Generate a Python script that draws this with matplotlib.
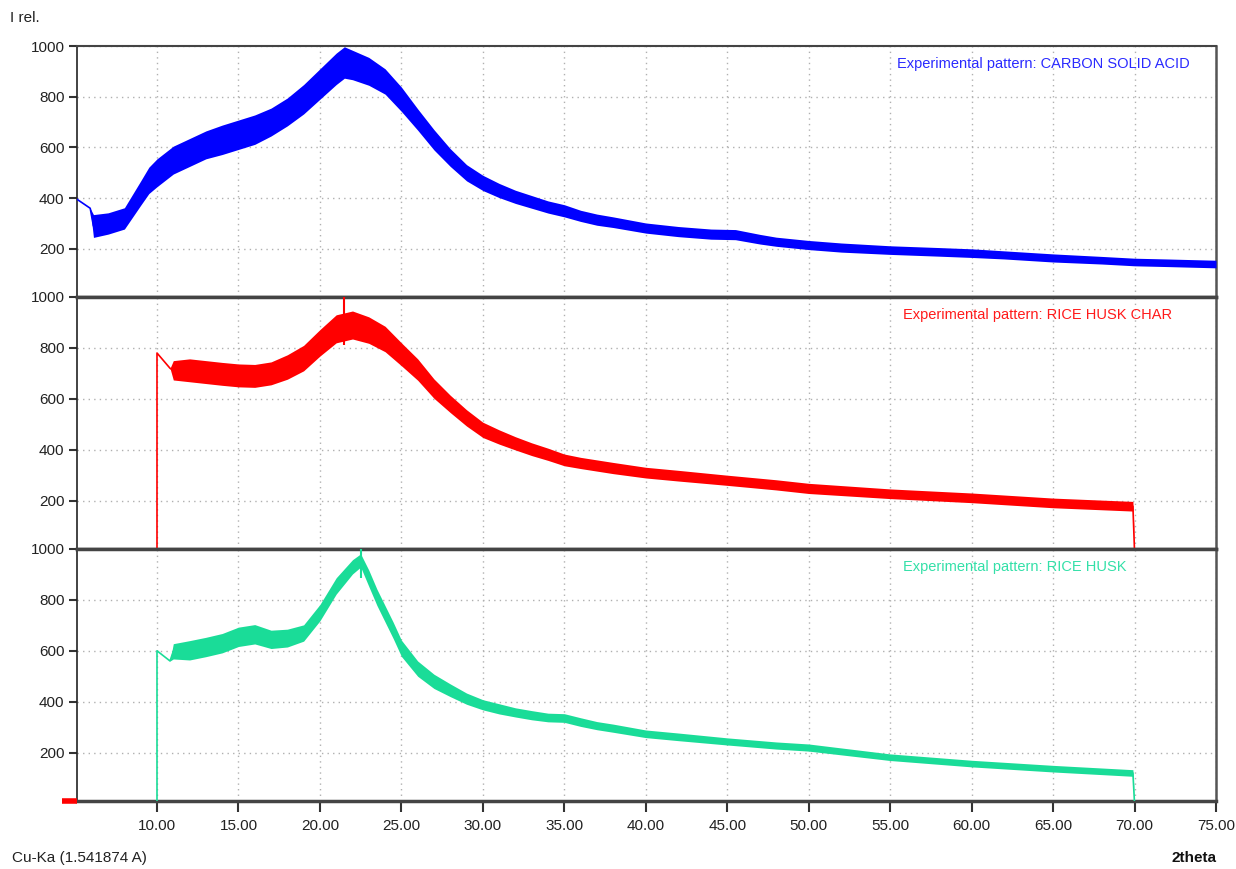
import matplotlib
matplotlib.use("Agg")
import matplotlib.pyplot as plt
import numpy as np

plt.rcParams['font.family'] = ['Liberation Sans', 'DejaVu Sans']

# --- pattern data (2theta, intensity, noise half-width) ---
csa_x = [5.1, 5.9, 6.1, 7, 8, 9, 9.5, 10, 11, 12, 13, 14, 15, 16, 17, 18, 19, 20, 21, 21.5, 22, 23,
         24, 25, 26, 27, 28, 29, 30, 31, 32, 33, 34, 35, 36, 37, 38, 40, 42, 44, 45.5, 47, 48, 50,
         52, 55, 58, 60, 62, 65, 68, 70, 72, 75]
csa_y = [395, 360, 290, 300, 320, 420, 470, 500, 550, 580, 610, 630, 650, 670, 700, 740, 790, 850,
         910, 935, 925, 900, 860, 790, 710, 630, 560, 500, 460, 430, 405, 385, 365, 350, 330, 315,
         305, 282, 268, 258, 256, 238, 228, 215, 205, 195, 188, 183, 176, 164, 155, 148, 145, 140]
csa_w = [0, 0, 45, 42, 42, 48, 52, 55, 55, 55, 55, 58, 58, 58, 55, 55, 58, 60, 62, 62, 58, 55,
         50, 48, 42, 40, 35, 32, 30, 28, 26, 25, 24, 24, 22, 22, 21, 20, 20, 20, 20, 19, 18, 18,
         18, 17, 17, 17, 16, 16, 15, 15, 15, 15]

rhc_x = [10, 10, 10.8, 11, 12, 13, 14, 15, 16, 17, 18, 19, 20, 21, 22, 23, 24, 25, 26, 27, 28, 29,
         30, 31, 32, 33, 34, 35, 36, 38, 40, 42, 45, 48, 50, 55, 60, 65, 69.9, 70]
rhc_y = [0, 780, 720, 712, 712, 705, 698, 692, 690, 700, 725, 760, 820, 875, 890, 870, 835, 775,
         715, 640, 580, 525, 478, 450, 425, 402, 382, 360, 348, 328, 310, 298, 280, 262, 248, 227,
         211, 191, 178, 0]
rhc_w = [0, 0, 0, 38, 45, 45, 45, 45, 45, 45, 48, 50, 52, 55, 55, 52, 50, 45, 42, 38, 34, 32,
         30, 28, 26, 25, 24, 23, 22, 22, 21, 21, 20, 20, 20, 19, 19, 19, 19, 0]

rh_x = [10, 10, 10.8, 11, 12, 13, 14, 15, 16, 17, 18, 19, 20, 21, 22, 22.5, 23, 23.5, 24, 24.5, 25,
        26, 27, 28, 29, 30, 31, 32, 33, 34, 35, 36, 37, 38, 40, 42, 45, 48, 50, 55, 60, 65, 69.9, 70]
rh_y = [0, 600, 560, 598, 602, 615, 630, 655, 665, 645, 650, 670, 750, 855, 930, 955, 885, 810,
        745, 680, 610, 530, 480, 445, 412, 388, 372, 358, 347, 338, 336, 320, 306, 296, 274, 262,
        244, 228, 220, 182, 157, 137, 120, 0]
rh_w = [0, 0, 0, 30, 38, 38, 38, 38, 38, 36, 35, 32, 32, 32, 28, 26, 32, 32, 32, 32, 32, 30, 28,
        25, 22, 20, 20, 18, 18, 17, 17, 17, 16, 16, 15, 15, 14, 14, 14, 13, 13, 13, 13, 0]

# single-channel spikes reaching the top
rhc_spike = (21.5, 1000)
rh_spike = (22.5, 1000)

series = [
    ("Experimental pattern: CARBON SOLID ACID", csa_x, csa_y, csa_w, None, "#0000ff", "#2a2aff"),
    ("Experimental pattern: RICE HUSK CHAR", rhc_x, rhc_y, rhc_w, rhc_spike, "#ff0000", "#ff1a1a"),
    ("Experimental pattern: RICE HUSK", rh_x, rh_y, rh_w, rh_spike, "#1adc98", "#33e0a8"),
]

fig = plt.figure(figsize=(12.36, 8.69), dpi=100)
fig.patch.set_facecolor("white")

left, width = 77 / 1236, (1216 - 77) / 1236
edges = [46, 297, 549, 801]
axes = []
for i in range(3):
    top_px, bot_px = edges[i], edges[i + 1]
    ax = fig.add_axes([left, 1 - bot_px / 869, width, (bot_px - top_px) / 869])
    axes.append(ax)

for i, (ax, (name, x, y, w, spike, col, tcol)) in enumerate(zip(axes, series)):
    x = np.array(x, dtype=float)
    y = np.array(y, dtype=float)
    w = np.array(w, dtype=float)
    ax.fill_between(x, y - w, y + w, color=col, lw=0, zorder=3)
    ax.plot(x, y, color=col, lw=1.2, zorder=4)
    if spike is not None:
        ax.vlines(spike[0], np.interp(spike[0], x, y) - 70, spike[1], color=col, lw=1.5, zorder=4)

    ax.set_xlim(5.09, 75)
    ax.set_ylim(10, 1000)
    ax.set_xticks(np.arange(10, 76, 5))
    ax.set_yticks([200, 400, 600, 800, 1000])
    ax.set_yticklabels(["200", "400", "600", "800", "1000"], fontsize=11, color="#222222")
    ax.grid(True, which="major", linestyle=(0, (1, 3)), color="#b0b0b0", lw=1)
    ax.tick_params(axis="y", length=6, width=1.5, direction="out", pad=3, colors="#333333")
    ax.tick_params(axis="y", labelcolor="#222222")

    if i < 2:
        ax.tick_params(axis="x", length=0, labelbottom=False)
    else:
        ax.set_xticklabels(["%.2f" % t for t in np.arange(10, 76, 5)], fontsize=11, color="#222222")
        ax.tick_params(axis="x", length=8, width=1.5, direction="out", pad=5, colors="#333333")
        ax.tick_params(axis="x", labelcolor="#222222")

    ax.spines["left"].set_color("#222222")
    ax.spines["left"].set_linewidth(1.2)
    ax.spines["right"].set_color("#555555")
    ax.spines["right"].set_linewidth(1.8)
    ax.spines["top"].set_color("#444444")
    ax.spines["top"].set_linewidth(1.5 if i == 0 else 2.5)
    ax.spines["bottom"].set_color("#444444")
    ax.spines["bottom"].set_linewidth(2.5)

    if i == 0:
        ax.text(0.977, 0.928, name, transform=ax.transAxes, ha="right", va="center",
                fontsize=10.5, color=tcol)
    else:
        ax.text(0.725, 0.928, name, transform=ax.transAxes, ha="left", va="center",
                fontsize=10.5, color=tcol)

# zero marker at the lower left
axes[2].plot([-0.013, 0], [10, 10], transform=axes[2].get_yaxis_transform(), color="#ff0000",
             lw=4, clip_on=False, solid_capstyle="butt", zorder=5)

fig.text(10 / 1236, 1 - 18 / 869, "I rel.", fontsize=11, ha="left", va="center", color="#222222")
fig.text(12 / 1236, 1 - 858 / 869, "Cu-Ka (1.541874 A)", fontsize=11, ha="left", va="center",
         color="#222222")
fig.text(1216 / 1236, 1 - 858 / 869, "2theta", fontsize=11, ha="right", va="center",
         fontweight="bold", color="#111111")

fig.savefig("out.png", dpi=100)
